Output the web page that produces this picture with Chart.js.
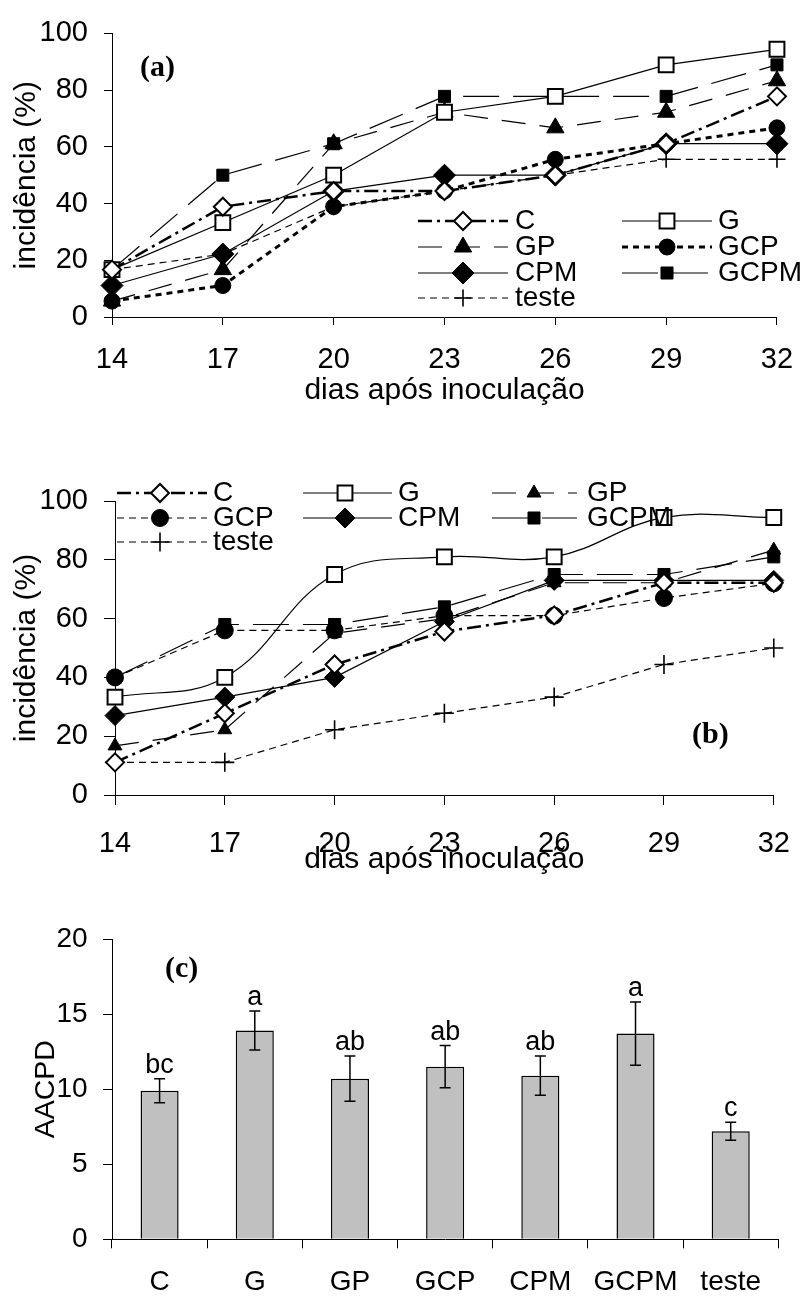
<!DOCTYPE html>
<html lang="pt">
<head>
<meta charset="utf-8">
<title>incidência e AACPD</title>
<script src="https://cdn.jsdelivr.net/npm/chart.js@4.4.1/dist/chart.umd.min.js"></script>
<style>
    html, body { margin: 0; padding: 0; background: #fff; }
    body { width: 811px; height: 1296px; position: relative; overflow: hidden; }
    .chart-box { position: absolute; left: 0; width: 811px; }
    #chart-a { top: 0; height: 420px; }
    #chart-b { top: 420px; height: 460px; }
    #chart-c { top: 880px; height: 416px; }
</style>
</head>
<body>
<div id="chart-a" class="chart-box"></div>
<div id="chart-b" class="chart-box"></div>
<div id="chart-c" class="chart-box"></div>
<script>
// 横轴：接种后天数
const dias = ['14', '17', '20', '23', '26', '29', '32'];
// 处理名称
const tratamentos = ['C', 'G', 'GP', 'GCP', 'CPM', 'GCPM', 'teste'];
// 纵轴刻度
const ticksIncidencia = [0, 20, 40, 60, 80, 100];
const ticksAacpd = [0, 5, 10, 15, 20];

// (a) 发病率 (%)
const incA_C     = [16.7, 38.9, 44.4, 44.4, 50.0, 61.1, 77.8];
const incA_G     = [16.7, 33.3, 50.0, 72.2, 77.8, 88.9, 94.4];
const incA_GP    = [5.6, 16.7, 61.1, 72.2, 66.7, 72.2, 83.3];
const incA_GCP   = [5.6, 11.1, 38.9, 44.4, 55.6, 61.1, 66.7];
const incA_CPM   = [11.1, 22.2, 44.4, 50.0, 50.0, 61.1, 61.1];
const incA_GCPM  = [16.7, 50.0, 61.1, 77.8, 77.8, 77.8, 88.9];
const incA_teste = [16.7, 22.2, 38.9, 44.4, 50.0, 55.6, 55.6];

// (b) 发病率 (%)
const incB_C     = [11.1, 27.8, 44.4, 55.6, 61.1, 72.2, 72.2];
const incB_G     = [33.3, 40.0, 75.0, 81.0, 81.0, 94.4, 94.4];
const incB_GP    = [16.7, 22.2, 55.0, 60.0, 72.2, 72.2, 83.3];
const incB_GCP   = [40.0, 56.0, 56.0, 61.0, 61.0, 67.0, 72.0];
const incB_CPM   = [27.0, 33.3, 40.0, 59.0, 73.0, 73.0, 73.0];
const incB_GCPM  = [40.0, 58.0, 58.0, 64.0, 75.0, 75.0, 81.0];
const incB_teste = [11.1, 11.1, 22.2, 27.8, 33.3, 44.4, 50.0];

// (c) AACPD 及误差
const aacpd     = [9.9, 13.9, 10.7, 11.5, 10.9, 13.7, 7.2];
const aacpdErro = [0.8, 1.3, 1.5, 1.4, 1.3, 2.1, 0.6];
const letras    = ['bc', 'a', 'ab', 'ab', 'ab', 'a', 'c'];

// 字体
const FONT = '"Liberation Sans", Arial, sans-serif';
const FONT_TAG = 'bold 30px "Liberation Serif", "Times New Roman", serif';

// 线型与标记样式
const estilosA = {
    C:     { point: 'rectRot',  radius: 9,    fill: '#fff', pointBorder: 2,   width: 2.5, dash: [14, 5, 3, 5] },
    G:     { point: 'rect',     radius: 10.5, fill: '#fff', pointBorder: 2,   width: 1.2, dash: [] },
    GP:    { point: 'triangle', radius: 10,   fill: '#000', pointBorder: 1,   width: 1.2, dash: [24, 14] },
    GCP:   { point: 'circle',   radius: 8,    fill: '#000', pointBorder: 1,   width: 3,   dash: [6, 5] },
    CPM:   { point: 'rectRot',  radius: 11,   fill: '#000', pointBorder: 1,   width: 1.2, dash: [] },
    GCPM:  { point: 'rect',     radius: 8.5,  fill: '#000', pointBorder: 1,   width: 1.2, dash: [36, 14] },
    teste: { point: 'cross',    radius: 8.5,  fill: '#000', pointBorder: 1.6, width: 1.2, dash: [7, 5] }
};
const estilosB = {
    C:     { point: 'rectRot',  radius: 9,    fill: '#fff', pointBorder: 2,   width: 2.5, dash: [14, 5, 3, 5] },
    G:     { point: 'rect',     radius: 10.5, fill: '#fff', pointBorder: 2,   width: 1.2, dash: [], tension: 0.4 },
    GP:    { point: 'triangle', radius: 8,    fill: '#000', pointBorder: 1,   width: 1.2, dash: [24, 14] },
    GCP:   { point: 'circle',   radius: 8.5,  fill: '#000', pointBorder: 1,   width: 1.2, dash: [7, 5] },
    CPM:   { point: 'rectRot',  radius: 10,   fill: '#000', pointBorder: 1,   width: 1.2, dash: [] },
    GCPM:  { point: 'rect',     radius: 8.5,  fill: '#000', pointBorder: 1,   width: 1.2, dash: [36, 14] },
    teste: { point: 'cross',    radius: 9.5,  fill: '#000', pointBorder: 1.6, width: 1.2, dash: [7, 5] }
};

// 图例布局（画布内坐标）
const legendaA = [
    { name: 'C',     x0: 418, x1: 508, mx: 463, tx: 515, y: 221 },
    { name: 'G',     x0: 622, x1: 712, mx: 667, tx: 718, y: 221 },
    { name: 'GP',    x0: 418, x1: 508, mx: 463, tx: 515, y: 247 },
    { name: 'GCP',   x0: 622, x1: 712, mx: 667, tx: 718, y: 247 },
    { name: 'CPM',   x0: 418, x1: 508, mx: 463, tx: 515, y: 273 },
    { name: 'GCPM',  x0: 622, x1: 712, mx: 667, tx: 718, y: 273 },
    { name: 'teste', x0: 418, x1: 508, mx: 463, tx: 515, y: 298 }
];
const legendaB = [
    { name: 'C',     x0: 117, x1: 207, mx: 160, tx: 213, y: 73 },
    { name: 'G',     x0: 303, x1: 392, mx: 345, tx: 398, y: 73 },
    { name: 'GP',    x0: 492, x1: 577, mx: 534, tx: 587, y: 73 },
    { name: 'GCP',   x0: 117, x1: 207, mx: 160, tx: 213, y: 98 },
    { name: 'CPM',   x0: 303, x1: 392, mx: 345, tx: 398, y: 98 },
    { name: 'GCPM',  x0: 492, x1: 577, mx: 534, tx: 587, y: 98 },
    { name: 'teste', x0: 117, x1: 207, mx: 160, tx: 213, y: 122 }
];

// 等待DOM加载完成
document.addEventListener('DOMContentLoaded', function() {
    initCharts();
});

/**
 * 初始化所有图表
 */
function initCharts() {
    Chart.defaults.font.family = FONT;
    Chart.defaults.font.size = 29;
    Chart.defaults.color = '#000';

    createIncidenceChart('chart-a',
        [incA_C, incA_G, incA_GP, incA_GCP, incA_CPM, incA_GCPM, incA_teste],
        estilosA, legendaA,
        { tag: '(a)', tagX: 140, tagY: 76, padTop: 23, padRight: 21, yWidth: 112, xHeight: 103,
          yTick: 8, xTick: 8, xPad: 17.9, xTitlePad: 11.7 });

    createIncidenceChart('chart-b',
        [incB_C, incB_G, incB_GP, incB_GCP, incB_CPM, incB_GCPM, incB_teste],
        estilosB, legendaB,
        { tag: '(b)', tagX: 692, tagY: 323, padTop: 81, padRight: 20, yWidth: 115, xHeight: 85,
          yTick: 11, xTick: 10, xPad: 21.1, xTitlePad: 2.4 });

    createAacpdChart();
}

/**
 * 绘制一个标记点
 */
function drawMarker(ctx, st, x, y) {
    ctx.setLineDash([]);
    ctx.fillStyle = st.fill;
    ctx.strokeStyle = '#000';
    ctx.lineWidth = st.pointBorder;
    Chart.helpers.drawPoint(ctx, {
        pointStyle: st.point,
        radius: st.radius,
        rotation: 0,
        borderWidth: st.pointBorder
    }, x, y);
}

/**
 * 图例与面板标签插件
 */
function decorPlugin(styles, legend, tag, tagX, tagY) {
    return {
        id: 'decor',
        afterDatasetsDraw: function(chart) {
            const ctx = chart.ctx;
            ctx.save();
            legend.forEach(function(item) {
                const st = styles[item.name];
                ctx.strokeStyle = '#000';
                ctx.lineWidth = st.width;
                ctx.setLineDash(st.dash);
                ctx.beginPath();
                ctx.moveTo(item.x0, item.y);
                ctx.lineTo(item.x1, item.y);
                ctx.stroke();
                drawMarker(ctx, st, item.mx, item.y);
                ctx.fillStyle = '#000';
                ctx.font = '28px ' + FONT;
                ctx.textAlign = 'left';
                ctx.textBaseline = 'middle';
                ctx.fillText(item.name, item.tx, item.y);
            });
            ctx.font = FONT_TAG;
            ctx.fillStyle = '#000';
            ctx.textAlign = 'left';
            ctx.textBaseline = 'alphabetic';
            ctx.fillText(tag, tagX, tagY);
            ctx.restore();
        }
    };
}

/**
 * 创建发病率折线图
 */
function createIncidenceChart(id, series, styles, legend, cfg) {
    const container = document.getElementById(id);
    if (!container) return;
    container.innerHTML = '';

    const datasets = tratamentos.map(function(name, i) {
        const st = styles[name];
        return {
            label: name,
            data: series[i],
            borderColor: '#000',
            borderWidth: st.width,
            borderDash: st.dash,
            pointStyle: st.point,
            pointRadius: st.radius,
            pointHoverRadius: st.radius,
            pointBackgroundColor: st.fill,
            pointBorderColor: '#000',
            pointBorderWidth: st.pointBorder,
            tension: st.tension || 0,
            fill: false,
            clip: false
        };
    });

    const canvas = document.createElement('canvas');
    container.appendChild(canvas);

    new Chart(canvas, {
        type: 'line',
        data: { labels: dias, datasets: datasets },
        options: {
            responsive: true,
            maintainAspectRatio: false,
            animation: false,
            layout: { padding: { top: cfg.padTop, right: cfg.padRight, left: 0, bottom: 0 } },
            plugins: {
                legend: { display: false },
                tooltip: { enabled: false }
            },
            scales: {
                x: {
                    type: 'category',
                    offset: false,
                    border: { display: true, color: '#000', width: 1 },
                    grid: { offset: false, drawOnChartArea: false, drawTicks: true, tickLength: cfg.xTick, color: '#000', lineWidth: 1 },
                    ticks: { padding: cfg.xPad, maxRotation: 0, autoSkip: false, color: '#000' },
                    title: {
                        display: true,
                        text: 'dias após inoculação',
                        color: '#000',
                        font: { size: 30 },
                        padding: { top: 0, bottom: cfg.xTitlePad }
                    },
                    afterFit: function(scale) { scale.height = cfg.xHeight; }
                },
                y: {
                    min: 0,
                    max: 100,
                    afterBuildTicks: function(scale) {
                        scale.ticks = ticksIncidencia.map(function(v) { return { value: v }; });
                    },
                    border: { display: true, color: '#000', width: 1 },
                    grid: { drawOnChartArea: false, drawTicks: true, tickLength: cfg.yTick, color: '#000', lineWidth: 1 },
                    ticks: { padding: 16, color: '#000' },
                    title: {
                        display: true,
                        text: 'incidência (%)',
                        color: '#000',
                        font: { size: 30 },
                        padding: { top: 8.9, bottom: 0 }
                    },
                    afterFit: function(scale) { scale.width = cfg.yWidth; }
                }
            }
        },
        plugins: [decorPlugin(styles, legend, cfg.tag, cfg.tagX, cfg.tagY)]
    });
}

/**
 * 创建 AACPD 柱状图
 */
function createAacpdChart() {
    const container = document.getElementById('chart-c');
    if (!container) return;
    container.innerHTML = '';

    // 误差线与显著性字母
    const errorBars = {
        id: 'errorBars',
        afterDatasetsDraw: function(chart) {
            const ctx = chart.ctx;
            const yScale = chart.scales.y;
            const meta = chart.getDatasetMeta(0);
            ctx.save();
            ctx.strokeStyle = '#000';
            ctx.lineWidth = 1.5;
            meta.data.forEach(function(bar, i) {
                const top = yScale.getPixelForValue(aacpd[i] + aacpdErro[i]);
                const bot = yScale.getPixelForValue(aacpd[i] - aacpdErro[i]);
                ctx.beginPath();
                ctx.moveTo(bar.x, top);
                ctx.lineTo(bar.x, bot);
                ctx.moveTo(bar.x - 5.5, top);
                ctx.lineTo(bar.x + 5.5, top);
                ctx.moveTo(bar.x - 5.5, bot);
                ctx.lineTo(bar.x + 5.5, bot);
                ctx.stroke();
                ctx.fillStyle = '#000';
                ctx.font = '27px ' + FONT;
                ctx.textAlign = 'center';
                ctx.textBaseline = 'alphabetic';
                ctx.fillText(letras[i], bar.x, top - 6);
            });
            ctx.font = FONT_TAG;
            ctx.textAlign = 'left';
            ctx.fillText('(c)', 165, 96.5);
            ctx.restore();
        }
    };

    const canvas = document.createElement('canvas');
    container.appendChild(canvas);

    new Chart(canvas, {
        type: 'bar',
        data: {
            labels: tratamentos,
            datasets: [{
                label: 'AACPD',
                data: aacpd,
                backgroundColor: '#c0c0c0',
                borderColor: '#000',
                borderWidth: 1.5,
                barPercentage: 0.4,
                categoryPercentage: 1.0
            }]
        },
        options: {
            responsive: true,
            maintainAspectRatio: false,
            animation: false,
            layout: { padding: { top: 59, right: 32.7, left: 0, bottom: 0 } },
            plugins: {
                legend: { display: false },
                tooltip: { enabled: false }
            },
            scales: {
                x: {
                    border: { display: true, color: '#000', width: 1 },
                    grid: { offset: true, drawOnChartArea: false, drawTicks: true, tickLength: 9, color: '#000', lineWidth: 1 },
                    ticks: { padding: 16.9, maxRotation: 0, autoSkip: false, color: '#000', font: { size: 28 } },
                    afterFit: function(scale) { scale.height = 56.7; }
                },
                y: {
                    min: 0,
                    max: 20,
                    afterBuildTicks: function(scale) {
                        scale.ticks = ticksAacpd.map(function(v) { return { value: v }; });
                    },
                    border: { display: true, color: '#000', width: 1 },
                    grid: { drawOnChartArea: false, drawTicks: true, tickLength: 9, color: '#000', lineWidth: 1 },
                    ticks: { padding: 15.4, color: '#000', font: { size: 28 } },
                    title: {
                        display: true,
                        text: 'AACPD',
                        color: '#000',
                        font: { size: 28.5 },
                        padding: { top: 28.9, bottom: 0 }
                    },
                    afterFit: function(scale) { scale.width = 112; }
                }
            }
        },
        plugins: [errorBars]
    });
}
</script>
</body>
</html>
